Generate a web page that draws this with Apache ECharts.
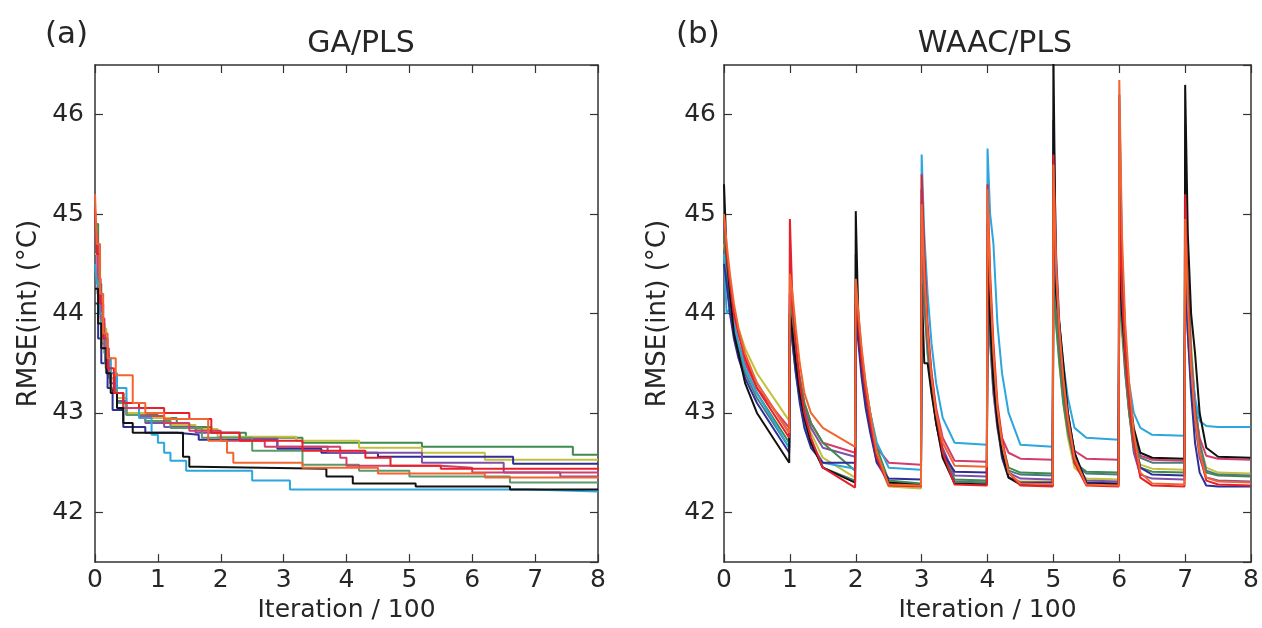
<!DOCTYPE html>
<html><head><meta charset="utf-8">
<script src="https://cdn.jsdelivr.net/npm/echarts@6/dist/echarts.min.js"></script>
<style>html,body{margin:0;padding:0;background:#fff}#c{width:1262px;height:628px}</style>
</head><body><div id="c"></div>
<script>
// ---------- labels ----------
const panelTitles = ['GA/PLS', 'WAAC/PLS'];
const panelTags = ['(a)', '(b)'];
const xName = 'Iteration / 100';
const yName = 'RMSE(int) (\u00B0C)';
const xRange = [0, 8];
const yRange = [41.5, 46.5];

// ---------- colours ----------
const colLB = '#2ba6de', colBK = '#111111', colRD = '#e8202a', colOR = '#f26430',
      colGR = '#3f8a4e', colNV = '#2e2e96', colPU = '#7f50a8', colYL = '#c4bf3c',
      colPK = '#d43d6a', colTL = '#4a7c7e', colG2 = '#5a9a6a';

// ---------- (a) GA/PLS : step curves [iteration/100, RMSE] ----------
const gaGR = [[0,44.9],[0.05,44.3],[0.1,43.9],[0.15,43.6],[0.22,43.35],[0.3,43.2],[0.45,43.05],[0.7,42.98],[1.0,42.95],[1.3,42.86],[1.85,42.8],[2.4,42.75],[3.3,42.7],[5.2,42.66],[7.6,42.58],[8,42.58]];
const gaYL = [[0,44.6],[0.05,44.2],[0.1,43.85],[0.18,43.55],[0.25,43.35],[0.35,43.15],[0.5,43.0],[0.8,42.95],[1.2,42.88],[1.6,42.84],[1.95,42.76],[3.2,42.72],[4.2,42.65],[5.2,42.6],[6.2,42.53],[8,42.53]];
const gaNV = [[0,44.1],[0.05,43.75],[0.1,43.5],[0.2,43.25],[0.28,43.03],[0.45,42.86],[0.8,42.8],[1.3,42.78],[1.65,42.73],[2.9,42.64],[3.6,42.6],[4.5,42.56],[6.65,42.49],[8,42.49]];
const gaPU = [[0,44.7],[0.04,44.2],[0.1,43.8],[0.16,43.5],[0.24,43.3],[0.35,43.12],[0.5,42.98],[0.8,42.9],[1.1,42.86],[1.6,42.8],[2.3,42.74],[2.9,42.66],[3.7,42.6],[5.2,42.5],[6.5,42.4],[7.4,42.36],[8,42.36]];
const gaG2 = [[0,44.4],[0.05,44.0],[0.1,43.7],[0.17,43.45],[0.25,43.25],[0.35,43.1],[0.5,42.98],[0.8,42.92],[1.2,42.85],[1.7,42.75],[2.5,42.62],[3.3,42.48],[4.2,42.42],[5.0,42.36],[6.6,42.3],[8,42.3]];
const gaPK = [[0,44.8],[0.04,44.35],[0.09,43.95],[0.15,43.65],[0.22,43.4],[0.32,43.2],[0.45,43.05],[0.7,42.97],[1.1,42.9],[1.5,42.82],[2.0,42.72],[2.7,42.66],[3.9,42.55],[4.0,42.47],[5.5,42.45],[6.0,42.4],[8,42.38]];
const gaLB = [[0,44.5],[0.03,44.3],[0.07,44.0],[0.12,43.75],[0.18,43.55],[0.25,43.4],[0.35,43.25],[0.5,43.1],[0.7,42.95],[0.9,42.78],[1.0,42.7],[1.1,42.6],[1.2,42.52],[1.45,42.42],[2.5,42.32],[3.1,42.23],[6.9,42.21],[8,42.21]];
const gaBK = [[0,44.25],[0.05,43.9],[0.1,43.65],[0.18,43.4],[0.25,43.2],[0.35,43.05],[0.45,42.9],[0.6,42.8],[1.4,42.56],[1.5,42.46],[1.62,42.44],[3.68,42.36],[4.1,42.29],[5.1,42.26],[6.6,42.23],[8,42.23]];
const gaRD = [[0,45.05],[0.03,44.6],[0.08,44.1],[0.13,43.75],[0.2,43.45],[0.3,43.2],[0.45,43.1],[0.7,43.05],[1.1,43.0],[1.5,42.94],[1.85,42.8],[2.3,42.72],[3.3,42.62],[4.3,42.55],[4.7,42.47],[5.5,42.44],[8,42.43]];
const gaOR = [[0,45.2],[0.03,44.7],[0.08,44.2],[0.13,43.8],[0.2,43.55],[0.33,43.38],[0.6,43.1],[0.8,43.0],[1.1,42.94],[1.8,42.72],[2.1,42.6],[2.2,42.5],[3.3,42.45],[4.5,42.39],[6.2,42.35],[8,42.34]];

// ---------- (b) WAAC/PLS : 8 restarts, values read at these offsets after each restart ----------
const segOffsets = [0, 0.04, 0.09, 0.15, 0.22, 0.32, 0.5, 0.99];
const waacYL = [[44.7,44.5,44.2,44.0,43.85,43.65,43.4,42.92],[44.1,43.85,43.55,43.25,43.0,42.8,42.55,42.35],[44.2,43.85,43.5,43.2,42.9,42.55,42.26,42.24],[44.6,44.1,43.6,43.2,42.9,42.55,42.31,42.3],[44.3,43.7,43.2,42.85,42.55,42.35,42.31,42.31],[44.3,43.9,43.5,43.1,42.75,42.45,42.34,42.33],[44.3,43.8,43.4,43.0,42.7,42.48,42.44,42.43],[45.9,44.5,43.7,43.1,42.7,42.45,42.4,42.39]];
const waacPU = [[44.9,44.6,44.3,44.0,43.8,43.55,43.3,42.8],[44.2,43.9,43.6,43.3,43.05,42.85,42.65,42.56],[44.1,43.8,43.45,43.15,42.85,42.5,42.3,42.28],[44.9,44.3,43.75,43.3,42.95,42.65,42.37,42.36],[44.4,43.7,43.2,42.85,42.6,42.4,42.34,42.33],[44.5,44.0,43.6,43.2,42.85,42.5,42.32,42.31],[44.5,43.9,43.4,43.0,42.6,42.38,42.34,42.33],[44.4,43.8,43.3,42.9,42.55,42.35,42.32,42.31]];
const waacPK = [[44.8,44.5,44.2,43.9,43.7,43.5,43.25,42.85],[44.2,43.95,43.65,43.35,43.1,42.9,42.7,42.6],[44.2,43.85,43.55,43.25,42.95,42.65,42.5,42.48],[44.8,44.3,43.8,43.4,43.05,42.75,42.52,42.51],[44.5,43.9,43.4,43.0,42.75,42.6,42.54,42.53],[44.4,44.0,43.6,43.2,42.9,42.62,42.54,42.53],[44.5,44.0,43.55,43.15,42.8,42.57,42.53,42.52],[44.5,43.95,43.45,43.05,42.75,42.57,42.54,42.53]];
const waacGR = [[44.8,44.4,44.1,43.85,43.65,43.45,43.2,42.7],[44.1,43.9,43.6,43.35,43.1,42.9,42.7,42.42],[44.6,44.0,43.6,43.3,43.0,42.65,42.32,42.29],[44.7,44.2,43.7,43.3,42.95,42.6,42.33,42.32],[44.5,43.8,43.3,42.95,42.7,42.45,42.4,42.39],[44.4,43.9,43.5,43.1,42.8,42.5,42.41,42.4],[44.4,43.9,43.45,43.0,42.65,42.45,42.41,42.4],[44.4,43.9,43.4,42.95,42.6,42.4,42.37,42.36]];
const waacTL = [[44.6,44.3,44.05,43.8,43.6,43.4,43.15,42.65],[44.0,43.75,43.45,43.15,42.9,42.7,42.45,42.32],[44.1,43.8,43.45,43.15,42.85,42.55,42.29,42.27],[44.7,44.1,43.6,43.25,42.9,42.6,42.31,42.3],[44.4,43.8,43.3,42.9,42.6,42.42,42.38,42.37],[45.0,44.2,43.7,43.25,42.85,42.5,42.39,42.38],[45.4,44.4,43.7,43.2,42.8,42.55,42.5,42.5],[45.55,44.4,43.6,43.1,42.7,42.42,42.38,42.37]];
const waacLB = [[44.6,44.0,44.05,43.9,43.7,43.45,43.2,42.65],[43.9,43.7,43.4,43.15,42.9,42.7,42.5,42.44],[44.0,43.8,43.5,43.25,43.0,42.7,42.45,42.43],[45.6,44.8,44.2,43.7,43.3,42.95,42.7,42.68],[45.66,45.0,44.7,43.9,43.4,43.0,42.68,42.66],[44.6,44.3,43.9,43.5,43.15,42.85,42.75,42.73],[44.4,44.0,43.65,43.3,43.0,42.85,42.78,42.77],[44.3,43.9,43.5,43.15,42.92,42.87,42.86,42.86]];
const waacNV = [[44.5,44.3,44.0,43.75,43.55,43.35,43.1,42.6],[44.0,43.7,43.4,43.1,42.85,42.65,42.5,42.5],[44.0,43.7,43.35,43.05,42.8,42.5,42.34,42.33],[45.25,44.5,43.8,43.3,42.9,42.6,42.41,42.4],[44.9,44.0,43.4,42.9,42.55,42.35,42.3,42.3],[45.95,44.6,43.9,43.4,43.0,42.6,42.3,42.29],[46.2,44.6,43.8,43.2,42.75,42.45,42.38,42.37],[44.5,43.8,43.2,42.7,42.4,42.27,42.26,42.26]];
const waacBK = [[45.3,44.6,44.2,43.8,43.6,43.3,43.0,42.5],[44.0,43.8,43.5,43.2,42.95,42.7,42.45,42.3],[45.03,43.9,43.5,43.2,42.9,42.55,42.3,42.27],[44.3,43.5,43.5,43.2,42.9,42.55,42.29,42.28],[44.6,43.9,43.3,42.9,42.6,42.35,42.28,42.27],[46.6,44.2,43.9,43.5,43.0,42.6,42.29,42.28],[44.6,44.0,43.6,43.2,42.85,42.6,42.55,42.54],[46.3,44.8,44.0,43.6,43.0,42.65,42.56,42.55]];
const waacRD = [[45.0,44.6,44.3,44.0,43.8,43.55,43.25,42.75],[44.95,44.1,43.7,43.3,43.0,42.75,42.45,42.25],[44.3,43.9,43.5,43.2,42.9,42.55,42.27,42.26],[45.4,44.6,43.9,43.4,43.0,42.6,42.28,42.27],[45.3,44.4,43.7,43.1,42.75,42.4,42.27,42.26],[45.6,44.4,43.8,43.3,42.9,42.5,42.27,42.26],[45.1,44.2,43.6,43.1,42.7,42.35,42.27,42.26],[45.2,44.2,43.5,43.0,42.6,42.32,42.28,42.27]];
const waacOR = [[45.0,44.7,44.4,44.1,43.85,43.6,43.3,42.8],[44.4,44.2,43.85,43.5,43.2,43.0,42.85,42.66],[44.35,44.0,43.65,43.3,43.0,42.6,42.28,42.27],[45.1,44.4,43.8,43.35,43.0,42.7,42.47,42.46],[45.25,44.3,43.6,43.05,42.7,42.4,42.29,42.28],[45.5,44.5,43.85,43.35,42.95,42.55,42.28,42.27],[46.35,44.8,43.9,43.3,42.8,42.4,42.29,42.28],[44.95,44.1,43.45,42.95,42.6,42.35,42.31,42.3]];

// ---------- build ----------
function restarts(segs) {
  const pts = [];
  segs.forEach((vals, s) => vals.forEach((v, i) => pts.push([s + segOffsets[i], v])));
  pts.push([xRange[1], segs[segs.length - 1][segs[0].length - 1]]);
  return pts;
}

const FONT = 'DejaVu Sans';
const TXT = '#262626';
const LINE = '#333333';

const gridsPx = [
  { left: 95, top: 65, width: 503, height: 502 },
  { left: 724, top: 65, width: 528, height: 502 }
];

const xAxes = [], yAxes = [];
[0, 1].forEach(g => {
  const common = {
    gridIndex: g, type: 'value', min: xRange[0], max: xRange[1], interval: 1,
    axisLine: { show: true, onZero: false, lineStyle: { color: LINE, width: 1.5 } },
    axisTick: { show: true, inside: true, length: 8, lineStyle: { color: LINE, width: 1.2 } },
    splitLine: { show: false }
  };
  xAxes.push(Object.assign({}, common, {
    position: 'bottom',
    axisLabel: { show: true, fontFamily: FONT, fontSize: 25, color: TXT, margin: 6 },
    name: xName, nameLocation: 'middle', nameGap: 34,
    nameTextStyle: { fontFamily: FONT, fontSize: 25, color: TXT }
  }));
  xAxes.push(Object.assign({}, common, { position: 'top', axisLabel: { show: false } }));
  const ycommon = {
    gridIndex: g, type: 'value', min: yRange[0], max: yRange[1], splitNumber: 5,
    axisLine: { show: true, onZero: false, lineStyle: { color: LINE, width: 1.5 } },
    axisTick: { show: true, inside: true, length: 8, lineStyle: { color: LINE, width: 1.2 } },
    splitLine: { show: false }
  };
  yAxes.push(Object.assign({}, ycommon, {
    position: 'left',
    axisLabel: { show: true, fontFamily: FONT, fontSize: 25, color: TXT, margin: g === 0 ? 11 : 8,
      showMinLabel: false, showMaxLabel: false,
      formatter: v => (Math.abs(v - Math.round(v)) < 1e-6 ? String(Math.round(v)) : '') },
    name: yName, nameLocation: 'middle', nameGap: 53, nameRotate: 90,
    nameTextStyle: { fontFamily: FONT, fontSize: 26, color: TXT }
  }));
  yAxes.push(Object.assign({}, ycommon, { position: 'right', axisLabel: { show: false } }));
});

function mk(data, color, g, step) {
  return {
    type: 'line', xAxisIndex: g * 2, yAxisIndex: g * 2, data: data,
    step: step ? 'end' : false, showSymbol: false, symbol: 'none', silent: true,
    clip: true, lineStyle: { color: color, width: 2 }, itemStyle: { color: color }
  };
}

const series = [
  mk(gaGR, colGR, 0, true), mk(gaYL, colYL, 0, true), mk(gaNV, colNV, 0, true),
  mk(gaPU, colPU, 0, true), mk(gaG2, colG2, 0, true), mk(gaPK, colPK, 0, true),
  mk(gaLB, colLB, 0, true), mk(gaBK, colBK, 0, true), mk(gaRD, colRD, 0, true),
  mk(gaOR, colOR, 0, true),
  mk(restarts(waacYL), colYL, 1, false), mk(restarts(waacPU), colPU, 1, false),
  mk(restarts(waacPK), colPK, 1, false), mk(restarts(waacGR), colGR, 1, false),
  mk(restarts(waacTL), colTL, 1, false), mk(restarts(waacLB), colLB, 1, false),
  mk(restarts(waacNV), colNV, 1, false), mk(restarts(waacBK), colBK, 1, false),
  mk(restarts(waacRD), colRD, 1, false), mk(restarts(waacOR), colOR, 1, false)
];

const chart = echarts.init(document.getElementById('c'), null, { renderer: 'canvas' });
chart.setOption({
  animation: false,
  backgroundColor: '#ffffff',
  title: [
    { text: panelTitles[0], left: 356, top: 24, textAlign: 'center',
      textStyle: { fontFamily: FONT, fontSize: 30, fontWeight: 'normal', color: TXT } },
    { text: panelTitles[1], left: 990, top: 24, textAlign: 'center',
      textStyle: { fontFamily: FONT, fontSize: 30, fontWeight: 'normal', color: TXT } },
    { text: panelTags[0], left: 40, top: 14,
      textStyle: { fontFamily: FONT, fontSize: 31, fontWeight: 'normal', color: TXT } },
    { text: panelTags[1], left: 671, top: 14,
      textStyle: { fontFamily: FONT, fontSize: 31, fontWeight: 'normal', color: TXT } }
  ],
  grid: gridsPx.map(g => Object.assign({ containLabel: false, show: false }, g)),
  xAxis: xAxes,
  yAxis: yAxes,
  series: series
});
</script>
</body></html>
